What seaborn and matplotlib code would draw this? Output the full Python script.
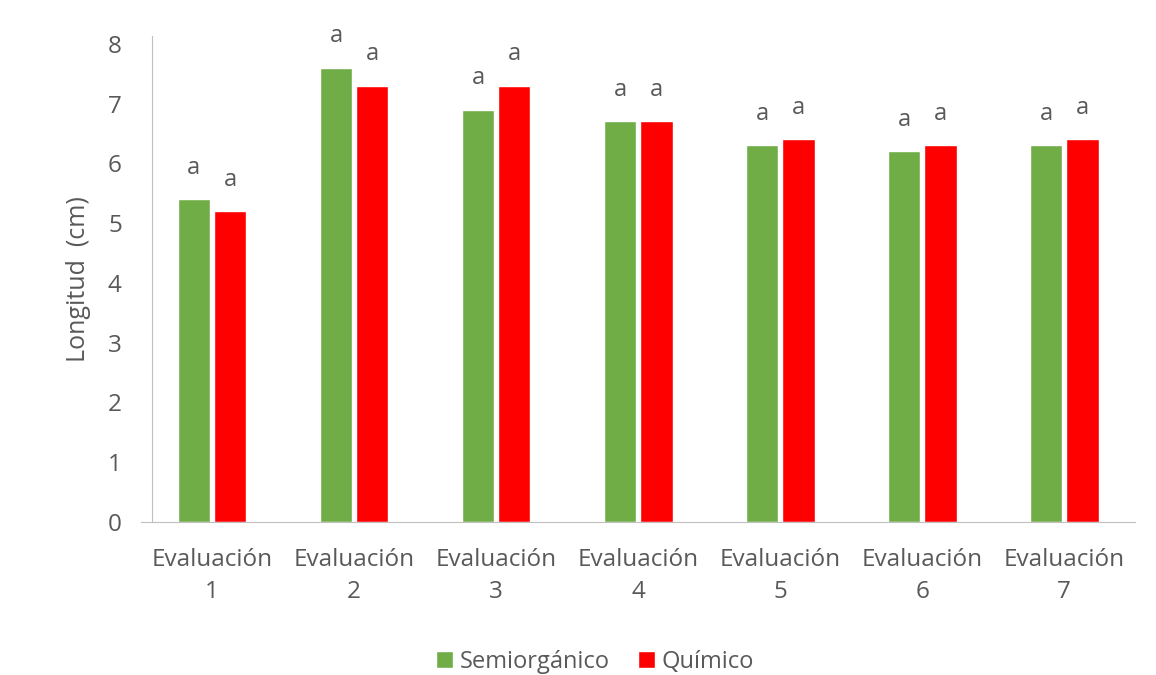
import numpy as np
import pandas as pd
import matplotlib
matplotlib.use("Agg")
import matplotlib.pyplot as plt
import seaborn as sns

# values
evaluaciones = ["Evaluación\n1", "Evaluación\n2", "Evaluación\n3", "Evaluación\n4",
                "Evaluación\n5", "Evaluación\n6", "Evaluación\n7"]
semiorganico = [5.4, 7.6, 6.9, 6.7, 6.3, 6.2, 6.3]
quimico = [5.2, 7.3, 7.3, 6.7, 6.4, 6.3, 6.4]
letras_semi = ["a"] * 7
letras_quim = ["a"] * 7
tratamientos = ["Semiorgánico", "Químico"]

df = pd.DataFrame({
    "evaluacion": evaluaciones * 2,
    "longitud": semiorganico + quimico,
    "tratamiento": [tratamientos[0]] * 7 + [tratamientos[1]] * 7,
})

sns.set_style("white")
plt.rcParams["font.family"] = ["Open Sans", "DejaVu Sans"]
gray = "#595959"

fig = plt.figure(figsize=(11.56, 6.75), dpi=100)
ax = fig.add_axes([0.122, 0.2267, 0.86, 0.72])

sns.barplot(
    data=df, x="evaluacion", y="longitud", hue="tratamiento",
    order=evaluaciones, hue_order=tratamientos,
    palette=["#70AD47", "#FF0000"], width=0.51, gap=0.1,
    saturation=1, ax=ax, legend=True
)

for cont, labs in zip(ax.containers, [letras_semi, letras_quim]):
    ax.bar_label(cont, labels=labs, padding=14, fontsize=17, color=gray)

ax.set_xlim(-0.5, 6.5)
ax.set_ylim(0, 8.13)
ax.set_yticks(range(0, 9))
ax.set_xlabel("")
ax.set_ylabel("Longitud  (cm)", fontsize=18, color=gray, labelpad=12)
ax.tick_params(axis="both", labelsize=17.5, colors=gray, length=0)
ax.tick_params(axis="x", pad=19)
ax.tick_params(axis="y", pad=22)
for t in ax.get_xticklabels():
    t.set_linespacing(1.4)

for s in ["top", "right"]:
    ax.spines[s].set_visible(False)
ax.spines["bottom"].set_color("#BFBFBF")
ax.spines["left"].set_color("#BFBFBF")
ax.spines["left"].set_position(("data", -0.42))

leg = ax.get_legend()
handles = leg.legend_handles
labels = [t.get_text() for t in leg.get_texts()]
leg.remove()
fig.legend(handles, labels, loc="center", bbox_to_anchor=(0.515, 0.02),
           ncol=2, frameon=False, fontsize=17, labelcolor=gray,
           handlelength=0.7, handleheight=0.7, handletextpad=0.3,
           columnspacing=1.2)

fig.savefig("out.png", dpi=100)
